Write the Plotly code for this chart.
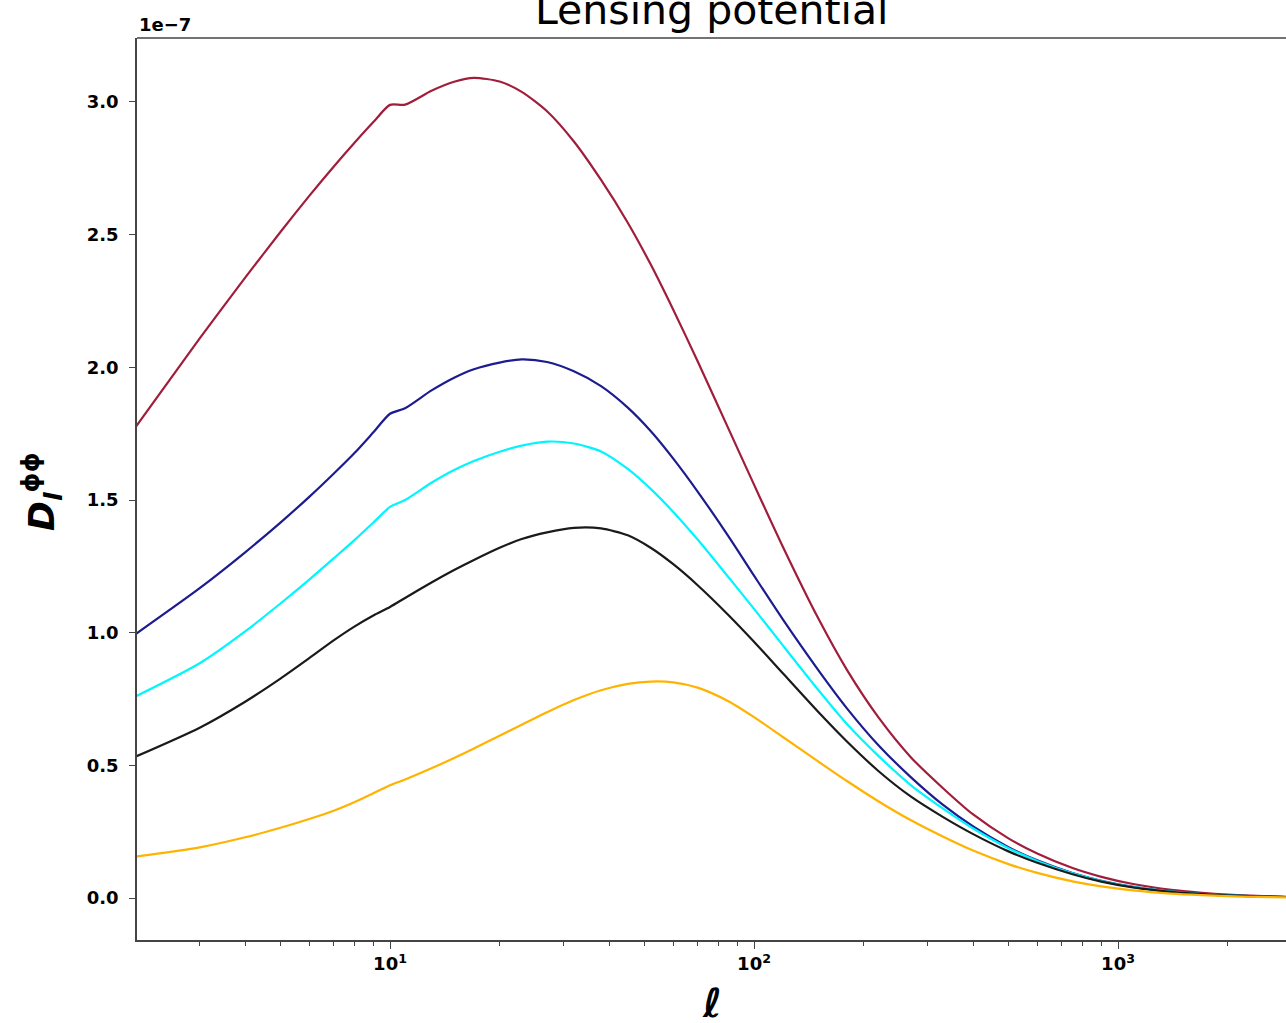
import plotly.graph_objects as go

# Multipoles and lensing-potential spectra D_l^{phi phi} (units of 1e-7)
ell = [2, 3, 4, 5, 6, 7, 8, 9, 10, 11, 13, 15, 17, 20, 23, 27, 32, 38, 45, 52,
       60, 70, 85, 100, 120, 150, 180, 220, 270, 330, 400, 500, 600, 750, 900,
       1100, 1400, 1700, 2000, 2400, 2900]

d_crimson = [1.775, 2.109, 2.338, 2.510, 2.646, 2.756, 2.847, 2.924, 2.989, 2.990,
             3.042, 3.076, 3.091, 3.077, 3.038, 2.965, 2.851, 2.706, 2.545, 2.388,
             2.217, 2.023, 1.770, 1.558, 1.324, 1.055, 0.860, 0.680, 0.530, 0.415,
             0.315, 0.225, 0.168, 0.113, 0.080, 0.053, 0.031, 0.020, 0.013, 0.008,
             0.005]

d_navy = [0.995, 1.168, 1.303, 1.415, 1.512, 1.599, 1.678, 1.755, 1.825, 1.846,
          1.913, 1.961, 1.993, 2.018, 2.030, 2.020, 1.985, 1.929, 1.848, 1.760,
          1.656, 1.532, 1.364, 1.215, 1.050, 0.860, 0.715, 0.575, 0.455, 0.352,
          0.270, 0.192, 0.142, 0.094, 0.065, 0.042, 0.024, 0.015, 0.0102, 0.0064,
          0.004]

d_cyan = [0.760, 0.885, 1.005, 1.110, 1.200, 1.280, 1.350, 1.415, 1.474, 1.500,
          1.565, 1.613, 1.647, 1.682, 1.705, 1.720, 1.713, 1.683, 1.617, 1.542,
          1.455, 1.351, 1.210, 1.090, 0.952, 0.785, 0.656, 0.535, 0.425, 0.338,
          0.262, 0.188, 0.140, 0.093, 0.064, 0.042, 0.024, 0.015, 0.0102, 0.0064,
          0.004]

d_black = [0.533, 0.642, 0.740, 0.827, 0.904, 0.971, 1.024, 1.065, 1.097, 1.131,
           1.189, 1.236, 1.274, 1.320, 1.353, 1.378, 1.395, 1.393, 1.367, 1.320,
           1.258, 1.179, 1.067, 0.966, 0.847, 0.702, 0.590, 0.478, 0.382, 0.306,
           0.241, 0.176, 0.133, 0.090, 0.062, 0.040, 0.023, 0.015, 0.010, 0.0064,
           0.004]

d_orange = [0.156, 0.191, 0.229, 0.265, 0.298, 0.329, 0.362, 0.395, 0.425, 0.447,
            0.489, 0.528, 0.564, 0.612, 0.653, 0.700, 0.746, 0.783, 0.807, 0.816,
            0.813, 0.793, 0.742, 0.682, 0.607, 0.515, 0.441, 0.364, 0.293, 0.232,
            0.179, 0.128, 0.095, 0.063, 0.044, 0.029, 0.017, 0.011, 0.0073, 0.0045,
            0.0028]

y_ticks = [0.0, 0.5, 1.0, 1.5, 2.0, 2.5, 3.0]
x_ticks = [10, 100, 1000]
x_tick_text = ["10<sup>1</sup>", "10<sup>2</sup>", "10<sup>3</sup>"]
x_minor = [m * d for d in (1, 10, 100, 1000) for m in range(2, 10)]

curves = [
    (d_crimson, "#a01d3c"),
    (d_navy, "#1c1c8f"),
    (d_cyan, "#00f5ff"),
    (d_black, "#1a1a1a"),
    (d_orange, "#ffb300"),
]

FONT = "DejaVu Sans"
AXIS = "#444444"

fig = go.Figure()
for values, color in curves:
    fig.add_trace(go.Scatter(
        x=ell, y=values, mode="lines",
        line=dict(color=color, width=2.2, shape="spline", smoothing=0.7),
        showlegend=False, hoverinfo="skip",
    ))

fig.update_layout(
    width=1286, height=1023,
    margin=dict(l=137, r=0, t=38, b=83),
    paper_bgcolor="white", plot_bgcolor="white",
    font=dict(family=FONT, color="black"),
    xaxis=dict(
        type="log", range=[0.3049, 3.4615],
        showline=True, linecolor=AXIS, linewidth=1.5,
        showgrid=False, zeroline=False,
        ticks="outside", ticklen=7, tickwidth=1.2, tickcolor=AXIS,
        tickvals=x_ticks, ticktext=x_tick_text,
        tickfont=dict(family=FONT, size=18, weight="bold"),
        minor=dict(tickvals=x_minor, ticks="outside", ticklen=4,
                   tickwidth=1, tickcolor=AXIS, showgrid=False),
    ),
    yaxis=dict(
        range=[-0.158, 3.241],
        showline=True, linecolor=AXIS, linewidth=1.5,
        showgrid=False, zeroline=False,
        ticks="outside", ticklen=6, tickwidth=1.2, tickcolor=AXIS,
        tickvals=y_ticks, ticktext=[f"{v:.1f}" for v in y_ticks],
        tickfont=dict(family=FONT, size=18, weight="bold"),
        ticklabelstandoff=7,
    ),
    shapes=[dict(type="line", xref="paper", yref="paper", x0=0, x1=1, y0=1, y1=1,
                 line=dict(color=AXIS, width=1.5))],
    annotations=[
        dict(text="Lensing potential", xref="paper", yref="paper",
             x=0.5, y=1.031, xanchor="center", yanchor="middle", showarrow=False,
             font=dict(family=FONT, size=41, color="black")),
        dict(text="1e\u22127", xref="paper", yref="paper",
             x=0, y=1.0155, xanchor="left", yanchor="middle", showarrow=False,
             font=dict(family=FONT, size=18, weight="bold", color="black")),
        dict(text="<i>D</i><sub><i>l</i></sub><sup>\u03d5\u03d5</sup>",
             xref="paper", yref="paper", x=-0.0827, y=0.4978,
             xanchor="center", yanchor="middle", textangle=-90, showarrow=False,
             font=dict(family=FONT, size=36, weight="bold", color="black")),
        dict(text="<i>\u2113</i>", xref="paper", yref="paper",
             x=0.5, y=-0.0698, xanchor="center", yanchor="middle", showarrow=False,
             font=dict(family=FONT, size=40, weight="bold", color="black")),
    ],
)

fig.write_html("out.html")
